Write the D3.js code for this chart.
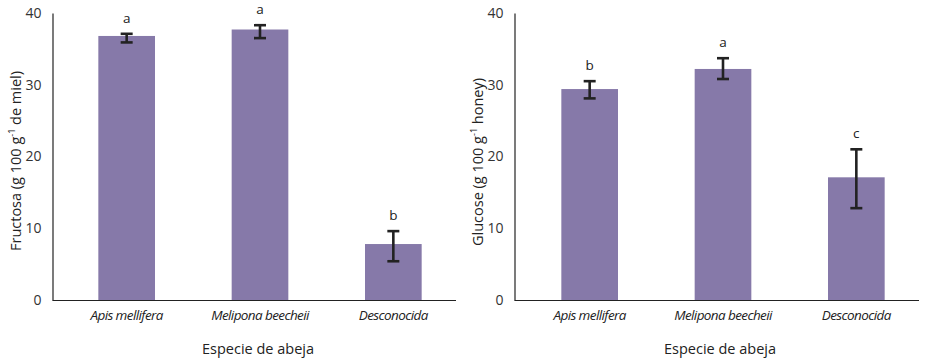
<!DOCTYPE html>
<html><head><meta charset="utf-8">
<script src="https://cdn.jsdelivr.net/npm/d3@7"></script>
<style>
body{margin:0;background:#fff;}
text{font-family:"Open Sans","Noto Sans",sans-serif;fill:#222;}
</style></head>
<body><svg id="c" width="925" height="361"></svg>
<script>
const categories = ["Apis mellifera", "Melipona beecheii", "Desconocida"];
const fructoseMean = [36.8, 37.7, 7.8];
const fructoseLow = [35.9, 36.5, 5.4];
const fructoseHigh = [37.1, 38.3, 9.6];
const fructoseLetters = ["a", "a", "b"];
const glucoseMean = [29.4, 32.2, 17.1];
const glucoseLow = [28.1, 30.8, 12.8];
const glucoseHigh = [30.5, 33.7, 21.0];
const glucoseLetters = ["b", "a", "c"];
const yTicks = [0, 10, 20, 30, 40];

const svg = d3.select("#c");
const barColor = "#8679a9";

function panel(opts) {
  const g = svg.append("g");
  const y = d3.scaleLinear().domain([0, 40]).range([300, 13]);
  const x = d3.scaleBand().domain(categories).range([opts.bandStart, opts.bandStart + 400]).paddingInner(0.575).paddingOuter(0.2875);

  g.selectAll("rect.bar").data(categories).join("rect")
    .attr("x", d => x(d)).attr("width", x.bandwidth())
    .attr("y", (d, i) => y(opts.mean[i]))
    .attr("height", (d, i) => y(0) - y(opts.mean[i]))
    .attr("fill", barColor);

  const ya = g.append("g").attr("transform", `translate(${opts.axisX},0)`)
    .call(d3.axisLeft(y).tickValues(yTicks).tickSize(0).tickPadding(11).tickFormat(d3.format("d")));
  ya.select(".domain").attr("stroke", "#222").attr("stroke-width", 1.2);
  ya.selectAll("text").attr("font-size", 14).style("fill", "#333");

  const xa = g.append("g").attr("transform", `translate(0,300)`)
    .call(d3.axisBottom(x).tickSize(0).tickPadding(10));
  xa.select(".domain").attr("d", `M${opts.axisX},0.5H${opts.axisEnd}`).attr("stroke", "#222").attr("stroke-width", 1.2);
  xa.selectAll("text").attr("font-size", 13.5).attr("font-style", "italic")
    .attr("letter-spacing", "-0.6").style("fill", "#222");

  const eb = g.selectAll("g.err").data(categories).join("g").attr("class", "err");
  const cx = d => x(d) + x.bandwidth() / 2;
  eb.append("line").attr("x1", cx).attr("x2", cx)
    .attr("y1", (d, i) => y(opts.low[i])).attr("y2", (d, i) => y(opts.high[i]));
  eb.append("line").attr("x1", d => cx(d) - 6).attr("x2", d => cx(d) + 6)
    .attr("y1", (d, i) => y(opts.low[i])).attr("y2", (d, i) => y(opts.low[i]));
  eb.append("line").attr("x1", d => cx(d) - 6).attr("x2", d => cx(d) + 6)
    .attr("y1", (d, i) => y(opts.high[i])).attr("y2", (d, i) => y(opts.high[i]));
  eb.selectAll("line").attr("stroke", "#222").attr("stroke-width", 2.6);

  g.selectAll("text.let").data(categories).join("text").attr("class", "let")
    .attr("x", cx).attr("y", (d, i) => y(opts.high[i]) - 11)
    .attr("text-anchor", "middle").attr("font-size", 13.5).text((d, i) => opts.letters[i]);

  const yl = g.append("text").attr("transform", `translate(${opts.ylabX},${opts.ylabY}) rotate(-90)`)
    .attr("text-anchor", "middle").attr("font-size", 14.5);
  yl.append("tspan").text(opts.ylab1);
  yl.append("tspan").attr("font-size", 9).attr("dy", -6).text("-1");
  yl.append("tspan").attr("dy", 6).text(opts.ylab2);

  g.append("text").attr("x", opts.xlabX).attr("y", 354).attr("text-anchor", "middle")
    .attr("font-size", 14.5).text("Especie de abeja");
}

panel({axisX: 52.5, axisEnd: 456, bandStart: 60, mean: fructoseMean, low: fructoseLow, high: fructoseHigh,
  letters: fructoseLetters, ylabX: 21, ylabY: 161, ylab1: "Fructosa (g 100 g", ylab2: " de miel)", xlabX: 258});
panel({axisX: 514.5, axisEnd: 919, bandStart: 523, mean: glucoseMean, low: glucoseLow, high: glucoseHigh,
  letters: glucoseLetters, ylabX: 483, ylabY: 162, ylab1: "Glucose (g 100 g", ylab2: " honey)", xlabX: 720});
</script></body></html>
